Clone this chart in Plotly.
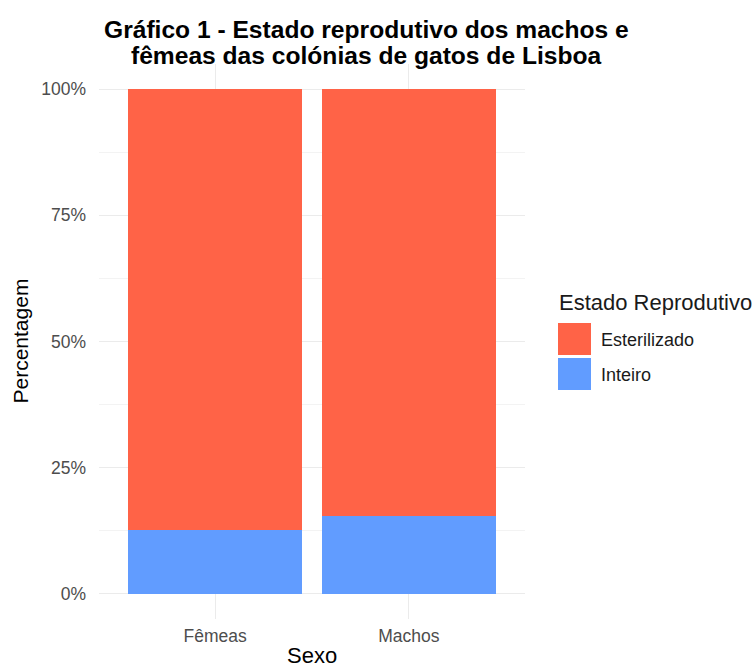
import plotly.graph_objects as go

# Reproductive status of cats in Lisbon colonies, by sex (percent of each sex)
sexo = ["Fêmeas", "Machos"]
inteiro = [12.6, 15.4]
esterilizado = [87.4, 84.6]

estados = ["Esterilizado", "Inteiro"]
cores = {"Esterilizado": "#FF6347", "Inteiro": "#619CFF"}

y_ticks = [0, 25, 50, 75, 100]
y_ticktext = ["0%", "25%", "50%", "75%", "100%"]
y_minor = [12.5, 37.5, 62.5, 87.5]

W, H = 754, 667
L, R, T, B = 99, 229, 64, 48
PW, PH = W - L - R, H - T - B


def px_x(p):
    return (p - L) / PW


def px_y(p):
    return (H - B - p) / PH


FONT = "Liberation Sans, Arial, sans-serif"

fig = go.Figure()
# stacked: Inteiro at the bottom, Esterilizado on top
fig.add_trace(go.Bar(x=sexo, y=inteiro, name="Inteiro", width=0.9,
                     marker=dict(color=cores["Inteiro"], line=dict(width=0)),
                     showlegend=False))
fig.add_trace(go.Bar(x=sexo, y=esterilizado, name="Esterilizado", width=0.9,
                     marker=dict(color=cores["Esterilizado"], line=dict(width=0)),
                     showlegend=False))

annotations = [
    dict(text="<b>Gráfico 1 - Estado reprodutivo dos machos e</b>", x=px_x(366), y=px_y(30),
         xref="paper", yref="paper", showarrow=False, xanchor="center", yanchor="middle",
         font=dict(family=FONT, size=24.6, color="#000000")),
    dict(text="<b>fêmeas das colónias de gatos de Lisboa</b>", x=px_x(366), y=px_y(56),
         xref="paper", yref="paper", showarrow=False, xanchor="center", yanchor="middle",
         font=dict(family=FONT, size=24.6, color="#000000")),
    dict(text="Sexo", x=0.5, y=px_y(655), xref="paper", yref="paper", showarrow=False,
         xanchor="center", yanchor="middle", font=dict(family=FONT, size=22, color="#000000")),
    dict(text="Percentagem", x=px_x(20), y=0.5, xref="paper", yref="paper", showarrow=False,
         xanchor="center", yanchor="middle", textangle=-90,
         font=dict(family=FONT, size=21, color="#000000")),
    dict(text="Estado Reprodutivo", x=px_x(557), y=px_y(302), xref="paper", yref="paper",
         showarrow=False, xanchor="left", yanchor="middle",
         font=dict(family=FONT, size=22, color="#1A1A1A")),
]

# legend keys drawn as filled squares with labels
shapes = []
key_tops = [323, 358]
for estado, top in zip(estados, key_tops):
    shapes.append(dict(type="rect", xref="paper", yref="paper",
                       x0=px_x(558), x1=px_x(591), y0=px_y(top + 32), y1=px_y(top),
                       fillcolor=cores[estado], line=dict(width=0), layer="above"))
    annotations.append(dict(text=estado, x=px_x(599), y=px_y(top + 17), xref="paper",
                            yref="paper", showarrow=False, xanchor="left", yanchor="middle",
                            font=dict(family=FONT, size=18, color="#1A1A1A")))

fig.update_layout(
    width=W, height=H,
    margin=dict(l=L, r=R, t=T, b=B, pad=0),
    barmode="stack",
    plot_bgcolor="white", paper_bgcolor="white",
    font=dict(family=FONT),
    annotations=annotations,
    shapes=shapes,
    showlegend=False,
)
fig.update_xaxes(
    type="category", range=[-0.6, 1.6],
    showgrid=True, gridcolor="#EBEBEB", gridwidth=1.2,
    zeroline=False, showline=False, ticks="",
    tickfont=dict(family=FONT, size=17.5, color="#4D4D4D"),
    ticklabelstandoff=4,
)
fig.update_yaxes(
    range=[-5, 105],
    tickvals=y_ticks, ticktext=y_ticktext,
    showgrid=True, gridcolor="#EBEBEB", gridwidth=1.2,
    minor=dict(tickvals=y_minor, showgrid=True, gridcolor="#F3F3F3", gridwidth=0.8),
    zeroline=False, showline=False, ticks="",
    tickfont=dict(family=FONT, size=17.5, color="#4D4D4D"),
    ticklabelstandoff=12,
)

fig.write_html("out.html")
